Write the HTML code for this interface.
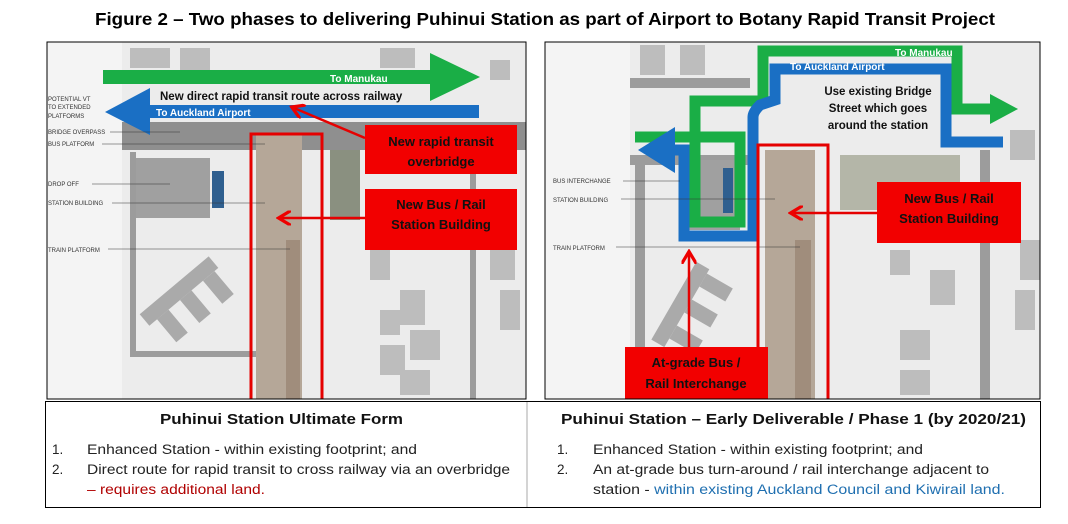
<!DOCTYPE html>
<html><head><meta charset="utf-8"><style>
body{margin:0;background:#fff;width:1068px;height:519px;overflow:hidden;font-family:"Liberation Sans",sans-serif}
</style></head><body>
<svg width="1068" height="519" viewBox="0 0 1068 519" xmlns="http://www.w3.org/2000/svg" font-family="Liberation Sans, sans-serif">
<text x="95" y="25" font-size="17.5" font-weight="bold" textLength="900" lengthAdjust="spacingAndGlyphs">Figure 2 – Two phases to delivering Puhinui Station as part of Airport to Botany Rapid Transit Project</text>
<defs>
<marker id="ra" markerWidth="6" markerHeight="6" refX="4" refY="3" orient="auto"><path d="M0,0 L5,3 L0,6" fill="none" stroke="#e00" stroke-width="1.3"/></marker>
<clipPath id="cl"><rect x="47" y="42" width="479" height="357"/></clipPath>
<clipPath id="cr"><rect x="545" y="42" width="495" height="357"/></clipPath>
</defs>
<g clip-path="url(#cl)">
<rect x="47" y="42" width="479" height="357" fill="#ececec"/>
<rect x="47" y="42" width="75" height="357" fill="#f4f4f4"/>
<rect x="122" y="122" width="404" height="28" fill="#8f8f8f"/>
<rect x="130" y="158" width="80" height="60" fill="#a0a0a0"/>
<rect x="130" y="152" width="6" height="205" fill="#9c9c9c"/>
<rect x="130" y="351" width="140" height="6" fill="#9c9c9c"/>
<rect x="212" y="171" width="12" height="37" fill="#2f5f8f"/>
<rect x="256" y="135" width="46" height="264" fill="#b5a798"/>
<rect x="286" y="240" width="14" height="159" fill="#a08d7c"/>
<rect x="330" y="150" width="30" height="70" fill="#8a9080"/>
<rect x="470" y="150" width="6" height="249" fill="#9c9c9c"/>
<g fill="#bdbdbd"><rect x="130" y="48" width="40" height="20"/><rect x="180" y="48" width="30" height="22"/><rect x="380" y="48" width="35" height="20"/><rect x="490" y="60" width="20" height="20"/><rect x="370" y="250" width="20" height="30"/><rect x="400" y="290" width="25" height="35"/><rect x="380" y="310" width="20" height="25"/><rect x="410" y="330" width="30" height="30"/><rect x="380" y="345" width="25" height="30"/><rect x="490" y="240" width="25" height="40"/><rect x="500" y="290" width="20" height="40"/><rect x="400" y="370" width="30" height="25"/></g>
<g fill="#aaa" transform="rotate(-40 180 300)"><rect x="140" y="285" width="90" height="15"/><rect x="150" y="300" width="15" height="30"/><rect x="180" y="300" width="15" height="30"/><rect x="210" y="300" width="15" height="30"/></g>
<path d="M103,70 H430 V53 L480,77 L430,101 V84 H103 Z" fill="#1aae46"/>
<text x="330" y="82" font-size="10" font-weight="bold" fill="#fff">To Manukau</text>
<path d="M479,105 H150 V88 L105,112 L150,135 V118 H479 Z" fill="#1a6fc4"/>
<text x="156" y="116" font-size="10" font-weight="bold" fill="#fff">To Auckland Airport</text>
<text x="160" y="100" font-size="11.5" font-weight="bold" fill="#111">New direct rapid transit route across railway</text>
<g font-size="6" fill="#333"><text x="48" y="101">POTENTIAL VT</text><text x="48" y="109">TO EXTENDED</text><text x="48" y="118">PLATFORMS</text><text x="48" y="134">BRIDGE OVERPASS</text><text x="48" y="146">BUS PLATFORM</text><text x="48" y="186">DROP OFF</text><text x="48" y="205">STATION BUILDING</text><text x="48" y="252">TRAIN PLATFORM</text></g>
<g stroke="#333" stroke-width="0.6"><line x1="110" y1="132" x2="180" y2="132"/><line x1="102" y1="144" x2="265" y2="144"/><line x1="92" y1="184" x2="170" y2="184"/><line x1="112" y1="203" x2="265" y2="203"/><line x1="108" y1="249" x2="290" y2="249"/></g>
<rect x="251" y="134" width="71" height="280" fill="none" stroke="#e50000" stroke-width="3"/>
<line x1="365" y1="138" x2="294" y2="108" stroke="#e50000" stroke-width="2.5" marker-end="url(#ra)"/>
<line x1="365" y1="218" x2="281" y2="218" stroke="#e50000" stroke-width="2.5" marker-end="url(#ra)"/>
<rect x="365" y="125" width="152" height="49" fill="#f20000"/>
<text x="441" y="146" text-anchor="middle" font-size="13" font-weight="bold" fill="#111">New  rapid transit</text>
<text x="441" y="166" text-anchor="middle" font-size="13" font-weight="bold" fill="#111">overbridge</text>
<rect x="365" y="189" width="152" height="61" fill="#f20000"/>
<text x="441" y="209" text-anchor="middle" font-size="13" font-weight="bold" fill="#111">New Bus / Rail</text>
<text x="441" y="229" text-anchor="middle" font-size="13" font-weight="bold" fill="#111">Station Building</text>
</g>
<rect x="47" y="42" width="479" height="357" fill="none" stroke="#000" stroke-width="1"/>
<g clip-path="url(#cr)">
<rect x="545" y="42" width="495" height="357" fill="#ececec"/>
<rect x="545" y="42" width="85" height="357" fill="#f4f4f4"/>
<rect x="630" y="155" width="120" height="10" fill="#9c9c9c"/>
<rect x="635" y="160" width="10" height="239" fill="#9c9c9c"/>
<rect x="680" y="160" width="60" height="70" fill="#a0a0a0"/>
<rect x="723" y="168" width="10" height="45" fill="#2f5f8f"/>
<rect x="765" y="150" width="50" height="249" fill="#b5a798"/>
<rect x="795" y="240" width="16" height="159" fill="#a08d7c"/>
<rect x="840" y="155" width="120" height="55" fill="#b4b6a8"/>
<rect x="980" y="150" width="10" height="249" fill="#9c9c9c"/>
<rect x="630" y="78" width="120" height="10" fill="#9c9c9c"/>
<g fill="#bdbdbd"><rect x="640" y="45" width="25" height="30"/><rect x="680" y="45" width="25" height="30"/><rect x="1010" y="130" width="25" height="30"/><rect x="890" y="250" width="20" height="25"/><rect x="930" y="270" width="25" height="35"/><rect x="900" y="330" width="30" height="30"/><rect x="1020" y="240" width="20" height="40"/><rect x="1015" y="290" width="20" height="40"/><rect x="900" y="370" width="30" height="25"/></g>
<g fill="#aaa" transform="rotate(-60 680 310)"><rect x="640" y="300" width="90" height="15"/><rect x="650" y="315" width="15" height="30"/><rect x="680" y="315" width="15" height="30"/><rect x="710" y="315" width="15" height="30"/></g>
<path d="M635,137 H740 V222 H695 V101 H763 V51 H957 V109 H995" fill="none" stroke="#1aae46" stroke-width="11"/>
<path d="M990,94 L1018,109 L990,124 Z" fill="#1aae46"/>
<path d="M670,150 H684 V236 H753 V117 Q753,112 760,105 L775,100 V69 H946 V142 H1003" fill="none" stroke="#1a6fc4" stroke-width="11"/>
<path d="M675,127 L638,150 L675,173 Z" fill="#1a6fc4"/>
<text x="790" y="70" font-size="10" font-weight="bold" fill="#fff">To Auckland Airport</text>
<text x="895" y="56" font-size="10" font-weight="bold" fill="#fff">To Manukau</text>
<g font-size="11.5" font-weight="bold" fill="#111" text-anchor="middle"><text x="878" y="95">Use existing Bridge</text><text x="878" y="112">Street which goes</text><text x="878" y="129">around the station</text></g>
<g font-size="6" fill="#333"><text x="553" y="183">BUS INTERCHANGE</text><text x="553" y="202">STATION BUILDING</text><text x="553" y="250">TRAIN PLATFORM</text></g>
<g stroke="#333" stroke-width="0.6"><line x1="623" y1="181" x2="680" y2="181"/><line x1="621" y1="199" x2="775" y2="199"/><line x1="616" y1="247" x2="800" y2="247"/></g>
<rect x="758" y="145" width="70" height="270" fill="none" stroke="#e50000" stroke-width="3"/>
<line x1="877" y1="213" x2="793" y2="213" stroke="#e50000" stroke-width="2.5" marker-end="url(#ra)"/>
<line x1="689" y1="347" x2="689" y2="254" stroke="#e50000" stroke-width="2.5" marker-end="url(#ra)"/>
<rect x="877" y="182" width="144" height="61" fill="#f20000"/>
<text x="949" y="203" text-anchor="middle" font-size="13" font-weight="bold" fill="#111">New Bus / Rail</text>
<text x="949" y="223" text-anchor="middle" font-size="13" font-weight="bold" fill="#111">Station Building</text>
<rect x="625" y="347" width="143" height="52" fill="#f20000"/>
<text x="696" y="367" text-anchor="middle" font-size="13" font-weight="bold" fill="#111">At-grade Bus /</text>
<text x="696" y="388" text-anchor="middle" font-size="13" font-weight="bold" fill="#111">Rail Interchange</text>
</g>
<rect x="545" y="42" width="495" height="357" fill="none" stroke="#000" stroke-width="1"/>
<rect x="45.5" y="401.5" width="995" height="106" fill="none" stroke="#000" stroke-width="1"/>
<line x1="527" y1="402" x2="527" y2="507" stroke="#aaa" stroke-width="1"/>
<g font-size="15" font-weight="bold" fill="#111">
<text x="160" y="424" textLength="243" lengthAdjust="spacingAndGlyphs">Puhinui Station Ultimate Form</text>
<text x="561" y="424" textLength="465" lengthAdjust="spacingAndGlyphs">Puhinui Station – Early Deliverable / Phase 1 (by 2020/21)</text></g>
<g font-size="13.5" fill="#222">
<text x="52" y="454">1.</text><text x="87" y="454" textLength="330" lengthAdjust="spacingAndGlyphs">Enhanced Station - within existing footprint; and</text>
<text x="52" y="474">2.</text><text x="87" y="474" textLength="423" lengthAdjust="spacingAndGlyphs">Direct route for rapid transit to cross railway via an overbridge</text>
<text x="87" y="494" fill="#b00000" textLength="178" lengthAdjust="spacingAndGlyphs">– requires additional land.</text>
<text x="557" y="454">1.</text><text x="593" y="454" textLength="330" lengthAdjust="spacingAndGlyphs">Enhanced Station - within existing footprint; and</text>
<text x="557" y="474">2.</text><text x="593" y="474" textLength="396" lengthAdjust="spacingAndGlyphs">An at-grade bus turn-around / rail interchange adjacent to</text>
<text x="593" y="494" textLength="412" lengthAdjust="spacingAndGlyphs">station - <tspan fill="#1f6fb0">within existing Auckland Council and Kiwirail land.</tspan></text>
</g>
</svg>
</body></html>
